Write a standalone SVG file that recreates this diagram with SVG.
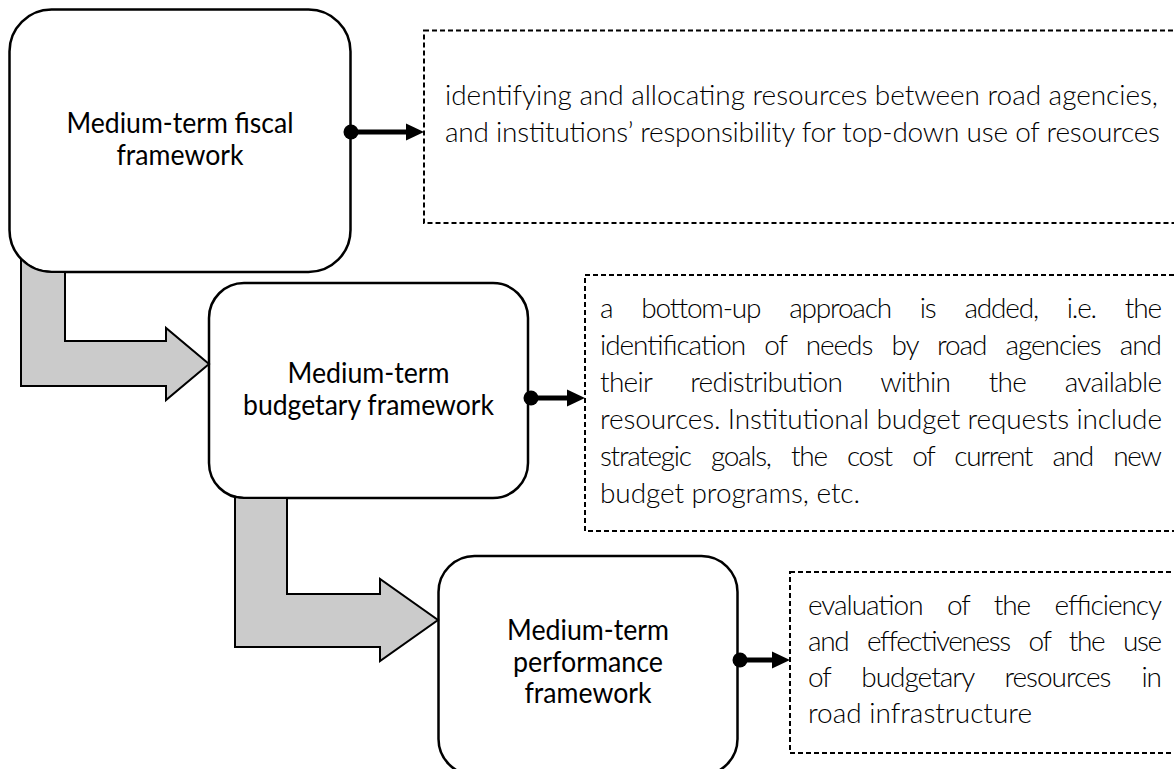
<svg xmlns="http://www.w3.org/2000/svg" width="1174" height="769" viewBox="0 0 1174 769">
  <style>
    .box { fill: #ffffff; stroke: #000000; stroke-width: 2.5; }
    .note { fill: none; stroke: #000000; stroke-width: 2; stroke-dasharray: 5 3; }
    .flow { fill: #cbcbcb; stroke: #000000; stroke-width: 2; stroke-linejoin: miter; }
    .link { stroke: #000000; stroke-width: 5; fill: none; }
    .dot, .head { fill: #000000; }
    .label { font-family: Lato, "Liberation Sans", sans-serif; font-size: 28px; fill: #000000; text-anchor: middle; }
    .desc { font-family: Lato, "Liberation Sans", sans-serif; font-size: 28px; font-weight: 300; fill: #000000; }
  </style>

  <g id="node-fiscal">
    <rect class="box" x="9.5" y="9.5" width="341" height="262.5" rx="42" ry="42"/>
    <text class="label" x="180" y="133" textLength="227" lengthAdjust="spacingAndGlyphs">Medium-term fiscal</text>
    <text class="label" x="180" y="165" textLength="127" lengthAdjust="spacingAndGlyphs">framework</text>
  </g>

  <g id="node-budgetary">
    <rect class="box" x="209" y="283" width="319" height="215" rx="35" ry="35"/>
    <text class="label" x="368.5" y="383" textLength="162" lengthAdjust="spacingAndGlyphs">Medium-term</text>
    <text class="label" x="368.5" y="415" textLength="251" lengthAdjust="spacingAndGlyphs">budgetary framework</text>
  </g>

  <g id="node-performance">
    <rect class="box" x="438.5" y="556" width="299" height="219" rx="36" ry="36"/>
    <text class="label" x="588" y="640" textLength="162" lengthAdjust="spacingAndGlyphs">Medium-term</text>
    <text class="label" x="588" y="672" textLength="150" lengthAdjust="spacingAndGlyphs">performance</text>
    <text class="label" x="588" y="703" textLength="127" lengthAdjust="spacingAndGlyphs">framework</text>
  </g>

  <g id="note-fiscal">
    <rect class="note" x="424" y="30.5" width="760" height="192.5"/>
    <text class="desc" x="445" y="105" textLength="713" lengthAdjust="spacing">identifying and allocating resources between road agencies,</text>
    <text class="desc" x="445" y="142" textLength="715" lengthAdjust="spacing">and institutions’ responsibility for top-down use of resources</text>
  </g>

  <g id="note-budgetary">
    <rect class="note" x="585" y="275" width="600" height="256"/>
    <text class="desc" x="600" y="318" textLength="562" lengthAdjust="spacing" word-spacing="22.5">a bottom-up approach is added, i.e. the</text>
    <text class="desc" x="600" y="355" textLength="562" lengthAdjust="spacing" word-spacing="12.6">identification of needs by road agencies and</text>
    <text class="desc" x="600" y="392" textLength="562" lengthAdjust="spacing" word-spacing="31.6">their redistribution within the available</text>
    <text class="desc" x="600" y="429" textLength="562" lengthAdjust="spacing">resources. Institutional budget requests include</text>
    <text class="desc" x="600" y="466" textLength="562" lengthAdjust="spacing" word-spacing="14">strategic goals, the cost of current and new</text>
    <text class="desc" x="600" y="503" textLength="260" lengthAdjust="spacing">budget programs, etc.</text>
  </g>

  <g id="note-performance">
    <rect class="note" x="790" y="572" width="400" height="181"/>
    <text class="desc" x="808" y="615" textLength="354" lengthAdjust="spacing" word-spacing="17.9">evaluation of the efficiency</text>
    <text class="desc" x="808" y="651" textLength="354" lengthAdjust="spacing" word-spacing="12.5">and effectiveness of the use</text>
    <text class="desc" x="808" y="687" textLength="354" lengthAdjust="spacing" word-spacing="24.3">of budgetary resources in</text>
    <text class="desc" x="808" y="723" textLength="224" lengthAdjust="spacing">road infrastructure</text>
  </g>

  <g id="connectors">
    <path class="flow" d="M65,272 V341 H166 V328 L209,364 L166,400 V386 H21 V258.9 A42,42 0 0,0 51.5,272 Z"/>
    <path class="flow" d="M287,498 V594 H380 V579 L438,620 L380,661 V647 H235 V496.8 A35,35 0 0,0 244,498 Z"/>

    <circle class="dot" cx="351" cy="132" r="7.5"/>
    <line class="link" x1="351" y1="132" x2="409" y2="132"/>
    <polygon class="head" points="406,123.5 424,132 406,140.5"/>

    <circle class="dot" cx="531" cy="398" r="7.5"/>
    <line class="link" x1="531" y1="398" x2="570" y2="398"/>
    <polygon class="head" points="567,389.5 585,398 567,406.5"/>

    <circle class="dot" cx="740" cy="660" r="7.5"/>
    <line class="link" x1="740" y1="660" x2="775" y2="660"/>
    <polygon class="head" points="772,651.5 790,660 772,668.5"/>
  </g>
</svg>
